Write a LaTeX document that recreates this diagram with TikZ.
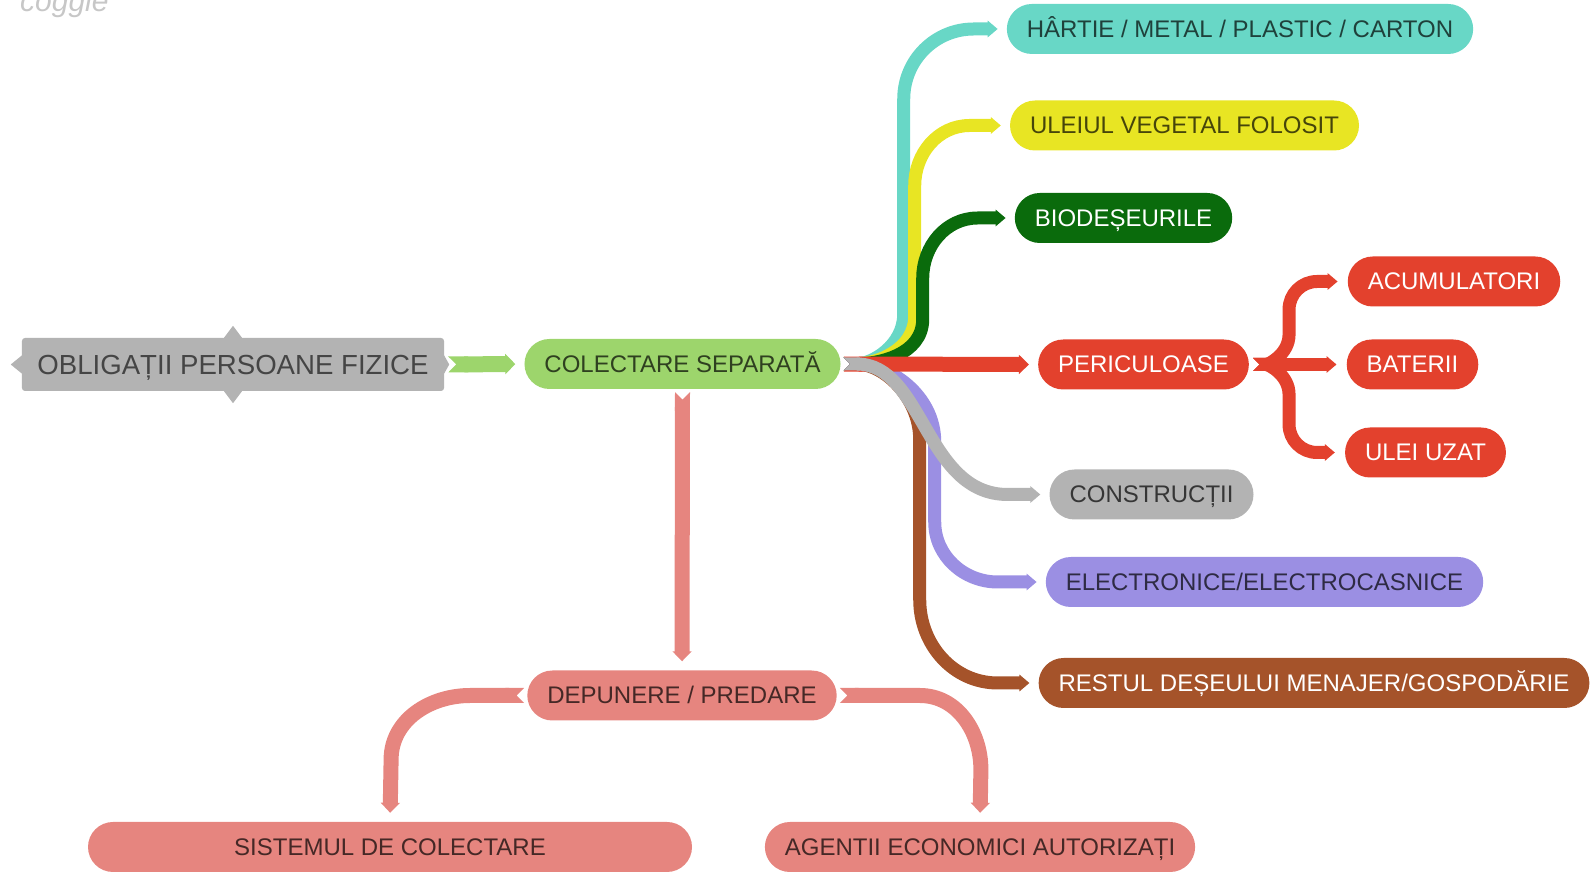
\documentclass[tikz,border=0pt]{standalone}
\usepackage{fontspec}
\setmainfont{Liberation Sans}
\usepackage{tikz}
\usetikzlibrary{arrows.meta,positioning}
\definecolor{rootc}{HTML}{B3B3B3}
\definecolor{roott}{HTML}{454545}
\definecolor{colectc}{HTML}{9DD56C}
\definecolor{cyanc}{HTML}{68D7C6}
\definecolor{yellowc}{HTML}{E8E523}
\definecolor{dgreenc}{HTML}{0A6B0C}
\definecolor{redc}{HTML}{E3412D}
\definecolor{grayc}{HTML}{B3B3B3}
\definecolor{purplec}{HTML}{9B8FE3}
\definecolor{brownc}{HTML}{A5532A}
\definecolor{pinkc}{HTML}{E6857F}

\begin{document}
\begin{tikzpicture}[x=1pt,y=1pt,
  topic/.style={rounded corners=25pt,fill=#1,text=#1!30!black,minimum height=50pt,inner xsep=20pt,inner ysep=0pt,text height=17pt,text depth=0pt,font={\fontsize{24}{28}\selectfont}},
  darktopic/.style={topic=#1,text=white},
  branch/.style={draw=#1,line width=13pt,{Triangle Cap[reversed]}-{Triangle[length=10pt,width=0pt 1.25]},shorten <=3pt,shorten >=9pt}]
\useasboundingbox (0,0) rectangle (1595,872);

% logo
\node[anchor=base west,inner sep=0pt,text=black!22,font={\fontsize{30}{30}\selectfont\itshape}] (logo) at (20,860) {coggle};

% root
\node[fill=rootc,rounded corners=3pt,text=roott,minimum height=53pt,inner xsep=15.5pt,inner ysep=0pt,text height=19.8pt,text depth=0pt,font={\fontsize{27.6}{32}\selectfont}] (root) at (233,507.5) {OBLIGAȚII PERSOANE FIZICE};
\fill[rootc] ([xshift=-9pt]root.north) -- ([yshift=12pt]root.north) -- ([xshift=9pt]root.north) -- cycle;
\fill[rootc] ([xshift=-9pt]root.south) -- ([yshift=-12pt]root.south) -- ([xshift=9pt]root.south) -- cycle;
\fill[rootc] ([yshift=-9pt]root.west) -- ([xshift=-11pt]root.west) -- ([yshift=9pt]root.west) -- cycle;
\fill[rootc] ([yshift=-9pt]root.east) -- ([xshift=5pt]root.east) -- ([yshift=9pt]root.east) -- cycle;

% topics
\node[topic=colectc] (colect) at (682.5,508) {COLECTARE SEPARATĂ};
\node[topic=cyanc] (hartie) at (1240,843) {HÂRTIE / METAL / PLASTIC / CARTON};
\node[topic=yellowc] (uleiul) at (1184.5,746.5) {ULEIUL VEGETAL FOLOSIT};
\node[darktopic=dgreenc] (biodes) at (1123.5,654) {BIODEȘEURILE};
\node[darktopic=redc] (peric) at (1143.5,507.5) {PERICULOASE};
\node[darktopic=redc] (acum) at (1454,590.5) {ACUMULATORI};
\node[darktopic=redc] (bater) at (1412.5,507.5) {BATERII};
\node[darktopic=redc] (uleiuz) at (1425.5,419.5) {ULEI UZAT};
\node[topic=grayc] (constr) at (1151.5,377.5) {CONSTRUCȚII};
\node[topic=purplec] (electr) at (1264.5,290) {ELECTRONICE/ELECTROCASNICE};
\node[darktopic=brownc] (restul) at (1314,189) {RESTUL DEȘEULUI MENAJER/GOSPODĂRIE};
\node[topic=pinkc] (depun) at (682,176.5) {DEPUNERE / PREDARE};
\node[topic=pinkc,minimum width=604pt] (sistem) at (390,25) {SISTEMUL DE COLECTARE};
\node[topic=pinkc] (agent) at (980,25) {AGENTII ECONOMICI AUTORIZAȚI};

% branches
\draw[branch=colectc,line width=16pt,shorten <=4pt] (root.east) -- (colect.west);
\draw[branch=cyanc] (colect.east) to[out=0,in=-90] ++(63,50) -- ++(0,215) to[out=90,in=180] ++(70,70) -- (hartie.west);
\draw[branch=yellowc] (colect.east) to[out=0,in=-90] ++(74,48) -- ++(0,130.5) to[out=90,in=180] ++(55,60) -- (uleiul.west);
\draw[branch=dgreenc] (colect.east) to[out=0,in=-90] ++(82,45) -- ++(0,41) to[out=90,in=180] ++(55,60) -- (biodes.west);
\draw[branch=brownc] (colect.east) to[out=0,in=90] ++(79,-76) -- ++(0,-160) to[out=-90,in=180] ++(78,-83) -- (restul.west);
\draw[branch=purplec] (colect.east) to[out=0,in=90] ++(94,-78) -- ++(0,-80) to[out=-90,in=180] ++(63,-60) -- (electr.west);
\draw[branch=redc,line width=15pt] (colect.east) -- (peric.west);
\draw[branch=grayc] (colect.east) to[out=0,in=180] ++(167,-130.5) -- (constr.west);

\begin{scope}[every path/.style={branch=redc,shorten <=4pt,shorten >=10pt}]
\draw (peric.east) to[out=0,in=-90] ++(40,30) -- ++(0,25) to[out=90,in=180] ++(28,28) -- (acum.west);
\draw (peric.east) to[out=0,in=90] ++(40,-30) -- ++(0,-30) to[out=-90,in=180] ++(28,-28) -- (uleiuz.west);
\draw (peric.east) -- (bater.west);
\end{scope}

\begin{scope}[every path/.style={branch=pinkc,line width=15pt}]
\draw (colect.south) -- (depun.north);
\draw (depun.west) -- ++(-57,0) to[out=180,in=90] ++(-79,-64) -- (sistem.north);
\draw (depun.east) -- ++(83,0) to[out=0,in=90] ++(61,-74) -- (agent.north);
\end{scope}

\end{tikzpicture}
\end{document}
